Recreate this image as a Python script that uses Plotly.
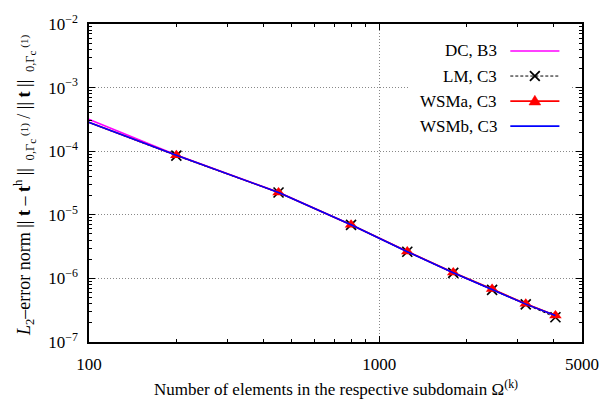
import plotly.graph_objects as go

# ---- data ----
elements = [50, 200, 450, 800, 1250, 1800, 2450, 3200, 4050]
err_dc = [1.15e-3, 8.75e-5, 2.26e-5, 6.95e-6, 2.65e-6, 1.23e-6, 6.7e-7, 3.95e-7, 2.6e-7]
err_lm = [9.4e-4, 8.5e-5, 2.24e-5, 6.95e-6, 2.62e-6, 1.22e-6, 6.6e-7, 3.9e-7, 2.45e-7]
err_wsma = [9.4e-4, 8.6e-5, 2.25e-5, 6.97e-6, 2.65e-6, 1.24e-6, 6.8e-7, 3.98e-7, 2.62e-7]
err_wsmb = [9.4e-4, 8.6e-5, 2.25e-5, 6.95e-6, 2.63e-6, 1.23e-6, 6.7e-7, 3.94e-7, 2.6e-7]

x_tickvals = [100, 1000, 5000]
x_ticktext = ["100", "1000", "5000"]
x_minor = [200, 300, 400, 500, 600, 700, 800, 900, 2000, 3000, 4000]
y_exps = [-7, -6, -5, -4, -3, -2]
y_tickvals = [10.0 ** e for e in y_exps]
y_ticktext = ["10<sup>\u2212%d</sup>" % (-e) for e in y_exps]
y_minor = [k * 10.0 ** e for e in y_exps[:-1] for k in range(2, 10)]

legend_names = ["DC, B3", "LM, C3", "WSMa, C3", "WSMb, C3"]

W, H = 611, 409
L, R, T, B = 89, 591, 12, 342
FONT = "Liberation Serif"


def px(x):
    return (x - L) / (R - L)


def py(y):
    return (B - y) / (B - T)


LM_DASH = "3px,2px"

fig = go.Figure()
fig.add_trace(go.Scatter(x=elements, y=err_dc, mode="lines", name=legend_names[0],
                         line=dict(color="#ff00ff", width=1.6)))
fig.add_trace(go.Scatter(x=elements, y=err_lm, mode="lines+markers", name=legend_names[1],
                         line=dict(color="black", width=1, dash=LM_DASH),
                         marker=dict(symbol="x-thin", size=10, line=dict(color="black", width=1.6))))
fig.add_trace(go.Scatter(x=elements, y=err_wsma, mode="lines+markers", name=legend_names[2],
                         line=dict(color="#ff0000", width=1.6),
                         marker=dict(symbol="triangle-up", size=11, color="#ff0000")))
fig.add_trace(go.Scatter(x=elements, y=err_wsmb, mode="lines", name=legend_names[3],
                         line=dict(color="#0000ff", width=1.6)))

axis_common = dict(
    showline=True, linecolor="black", linewidth=1.5, mirror="allticks",
    ticks="inside", ticklen=6, tickcolor="black", tickwidth=1,
    showgrid=True, gridcolor="#888888", gridwidth=1, griddash="1px,2px",
    zeroline=False, tickfont=dict(family=FONT, size=17, color="black"),
)

fig.update_xaxes(type="log", range=[2, 3.69897], tickmode="array",
                 tickvals=x_tickvals, ticktext=x_ticktext, ticklabelstandoff=6,
                 minor=dict(tickmode="array", tickvals=x_minor, ticks="inside",
                            ticklen=3, tickcolor="black", showgrid=False),
                 **axis_common)
fig.update_yaxes(type="log", range=[-7, -2], tickmode="array",
                 tickvals=y_tickvals, ticktext=y_ticktext, ticklabelstandoff=6,
                 minor=dict(tickmode="array", tickvals=y_minor, ticks="inside",
                            ticklen=3, tickcolor="black", showgrid=False),
                 **axis_common)

shapes = []
# legend box (white background)
shapes.append(dict(type="rect", xref="paper", yref="paper",
                   x0=px(415), x1=px(580), y0=py(134), y1=py(24),
                   fillcolor="white", line=dict(width=0), layer="above"))
rows = [40, 66, 92, 118]
x_a, x_b, x_c = 518, 568, 543
styles = [dict(color="#ff00ff", width=1.6), dict(color="black", width=1, dash=LM_DASH),
          dict(color="#ff0000", width=1.6), dict(color="#0000ff", width=1.6)]
for r, st in zip(rows, styles):
    shapes.append(dict(type="line", xref="paper", yref="paper",
                       x0=px(x_a), x1=px(x_b), y0=py(r), y1=py(r), line=st, layer="above"))
# X marker for LM
r = rows[1]
for (a, b) in [((-5, -5), (5, 5)), ((-5, 5), (5, -5))]:
    shapes.append(dict(type="line", xref="paper", yref="paper",
                       x0=px(x_c + a[0]), y0=py(r + a[1]), x1=px(x_c + b[0]), y1=py(r + b[1]),
                       line=dict(color="black", width=1.8), layer="above"))
# triangle for WSMa
r = rows[2]
path = "M %f,%f L %f,%f L %f,%f Z" % (px(x_c - 6), py(r + 4), px(x_c + 6), py(r + 4), px(x_c), py(r - 6))
shapes.append(dict(type="path", xref="paper", yref="paper", path=path,
                   fillcolor="#ff0000", line=dict(color="#ff0000", width=0.5), layer="above"))

annotations = []
for name, r in zip(legend_names, rows):
    annotations.append(dict(text=name, xref="paper", yref="paper", x=px(506), y=py(r),
                            xanchor="right", yanchor="middle", showarrow=False,
                            font=dict(family=FONT, size=17, color="black")))
# axis titles
annotations.append(dict(
    text="Number of elements in the respective subdomain \u03a9<sup>(k)</sup>",
    xref="paper", yref="paper", x=px(340), y=py(390), xanchor="center", yanchor="middle",
    showarrow=False, font=dict(family=FONT, size=17, color="black")))

sub_norm = ("<sub> 0,\u0393<sub><span style='font-size:11px'>c</span></sub>"
            "<sup><span style='font-size:11px'> (1)</span></sup></sub>")
ytitle = ("<i>L</i><sub>2</sub>\u2013error norm || <b>t</b> \u2013 <b>t</b><sup>h</sup> || "
          + sub_norm + " / || <b>t</b> || " + sub_norm)
annotations.append(dict(
    text=ytitle,
    xref="paper", yref="paper", x=px(24), y=py(180), xanchor="center", yanchor="middle",
    textangle=-90, showarrow=False, font=dict(family=FONT, size=18, color="black")))

fig.update_layout(
    width=W, height=H, margin=dict(l=L, r=W - R, t=T, b=H - B),
    paper_bgcolor="white", plot_bgcolor="white", showlegend=False,
    font=dict(family=FONT, size=17, color="black"),
    shapes=shapes, annotations=annotations,
)

fig.write_html("out.html")
